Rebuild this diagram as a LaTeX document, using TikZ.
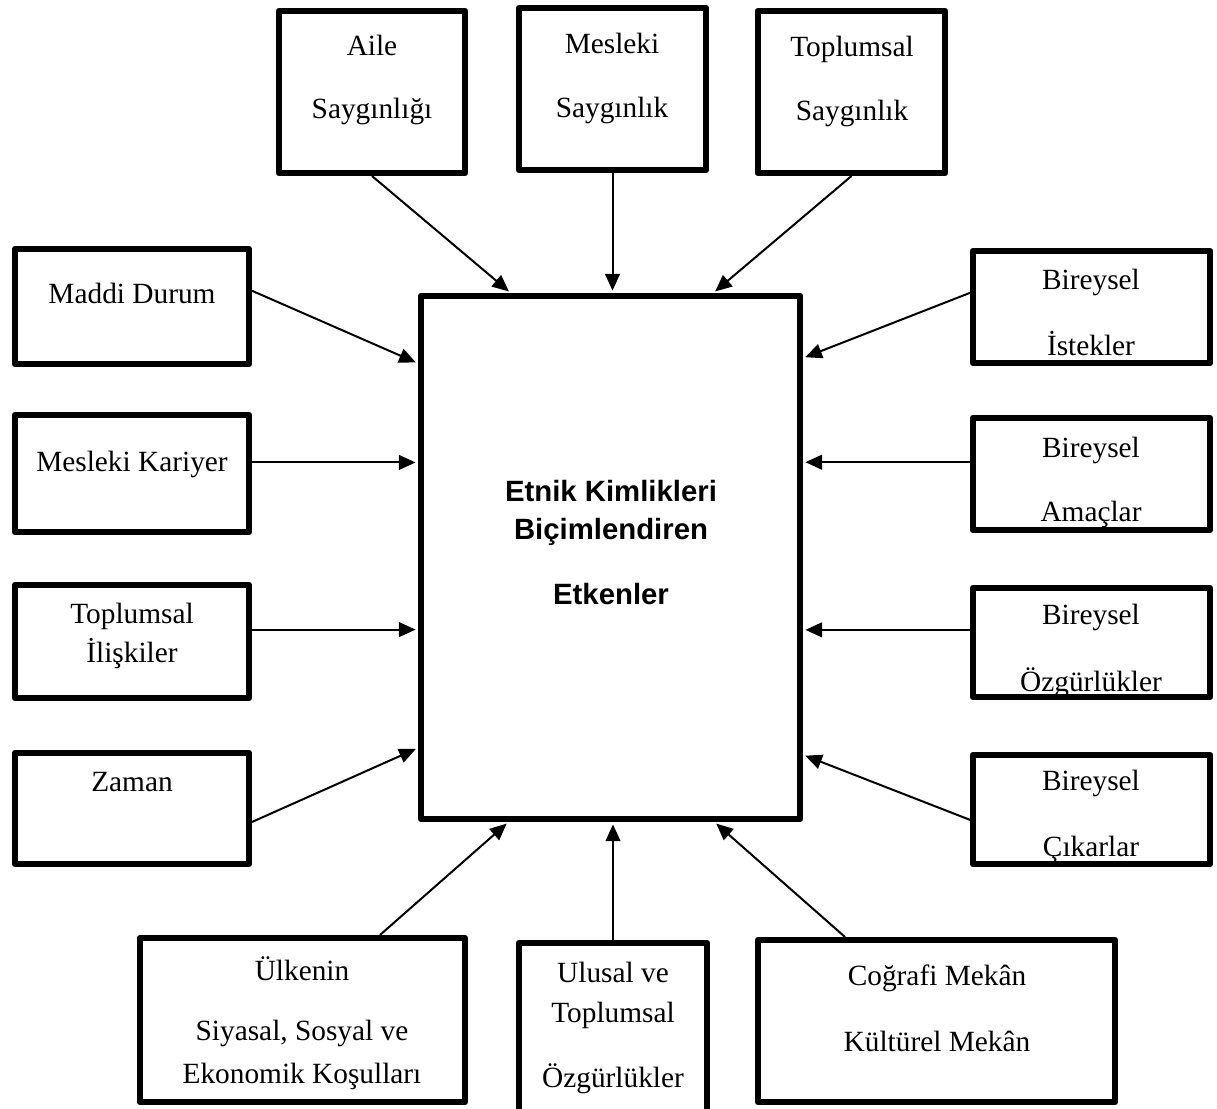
\documentclass[tikz,border=0pt]{standalone}
\usepackage{fontspec}
\setmainfont{Liberation Serif}
\newfontfamily\sansf{Liberation Sans}
\usetikzlibrary{arrows.meta,calc}
\newcommand\bx[5]{\node[box, minimum width={(#4-#2-5.6)*0.75pt}, minimum height={(#5-#3-5.6)*0.75pt}] (#1) at ({(#2+#4)/2},{(#3+#5)/2}) {};}
\begin{document}
\begin{tikzpicture}[x=0.75pt,y=-0.75pt,
  box/.style={draw, line width=4.2pt, rectangle, inner sep=0pt, line join=round},
  lbl/.style={anchor=base, inner sep=0pt, font=\fontsize{22}{26}\selectfont},
  ctr/.style={anchor=base, inner sep=0pt, font=\sansf\bfseries\fontsize{22}{26}\selectfont},
  arr/.style={line width=1.5pt, -{Triangle[length=12.5pt,width=11pt]}, shorten >=1.8pt}]
\useasboundingbox (0,0) rectangle (1217,1108);
% texts
\node[lbl] (t01) at (372,55) {Aile};
\node[lbl] (t02) at (372,118) {Saygınlığı};
\node[lbl] (t03) at (612,53) {Mesleki};
\node[lbl] (t04) at (612,117) {Saygınlık};
\node[lbl] (t05) at (852,56) {Toplumsal};
\node[lbl] (t06) at (852,120) {Saygınlık};
\node[lbl] (t07) at (132,303) {Maddi Durum};
\node[lbl] (t08) at (132,471) {Mesleki Kariyer};
\node[lbl] (t09) at (132,623) {Toplumsal};
\node[lbl] (t10) at (132,662) {İlişkiler};
\node[lbl] (t11) at (132,791) {Zaman};
\node[lbl] (t12) at (1091,289) {Bireysel};
\node[lbl] (t13) at (1091,355) {İstekler};
\node[lbl] (t14) at (1091,457) {Bireysel};
\node[lbl] (t15) at (1091,521) {Amaçlar};
\node[lbl] (t16) at (1091,624) {Bireysel};
\node[lbl] (t17) at (1091,691) {Özgürlükler};
\node[lbl] (t18) at (1091,790) {Bireysel};
\node[lbl] (t19) at (1091,856) {Çıkarlar};
\node[lbl] (t20) at (302,980) {Ülkenin};
\node[lbl] (t21) at (302,1040) {Siyasal, Sosyal ve};
\node[lbl] (t22) at (302,1083) {Ekonomik Koşulları};
\node[lbl] (t23) at (613,982) {Ulusal ve};
\node[lbl] (t24) at (613,1022) {Toplumsal};
\node[lbl] (t25) at (613,1087) {Özgürlükler};
\node[lbl] (t26) at (937,985) {Coğrafi Mekân};
\node[lbl] (t27) at (937,1051) {Kültürel Mekân};
\node[ctr] (t28) at (611,501) {Etnik Kimlikleri};
\node[ctr] (t29) at (611,539) {Biçimlendiren};
\node[ctr] (t30) at (611,604) {Etkenler};
% boxes
\bx{aile}{276}{8}{468}{176}
\bx{mes}{516}{5}{709}{173}
\bx{top}{755}{8}{948}{176}
\bx{maddi}{12}{246}{252}{367}
\bx{kar}{12}{412}{252}{535}
\bx{ili}{12}{582}{252}{701}
\bx{zam}{12}{750}{252}{867}
\bx{ist}{970}{248}{1213}{366}
\bx{amac}{970}{415}{1213}{533}
\bx{ozg}{970}{585}{1213}{700}
\bx{cik}{970}{752}{1213}{867}
\bx{c}{418}{293}{803}{822}
\bx{ulk}{137}{935}{468}{1105}
\bx{ulus}{516}{940}{710}{1120}
\bx{cog}{755}{937}{1118}{1105}
% connectors
\draw[arr] (aile.south) -- ($(c.north west)!0.241!(c.north east)$);
\draw[arr] (mes.south) -- (mes.south |- c.north);
\draw[arr] (top.south) -- ($(c.north west)!0.767!(c.north east)$);
\draw[arr] ($(maddi.north east)!0.37!(maddi.south east)$) -- ($(c.north west)!0.133!(c.south west)$);
\coordinate (k1) at ($(kar.north east)!0.41!(kar.south east)$);
\draw[arr] (k1) -- (k1 -| c.west);
\coordinate (k2) at ($(ili.north east)!0.40!(ili.south east)$);
\draw[arr] (k2) -- (k2 -| c.west);
\draw[arr] ($(zam.north east)!0.615!(zam.south east)$) -- ($(c.north west)!0.86!(c.south west)$);
\draw[arr] ($(ist.north west)!0.38!(ist.south west)$) -- ($(c.north east)!0.123!(c.south east)$);
\coordinate (k3) at ($(amac.north west)!0.40!(amac.south west)$);
\draw[arr] (k3) -- (k3 -| c.east);
\coordinate (k4) at ($(ozg.north west)!0.39!(ozg.south west)$);
\draw[arr] (k4) -- (k4 -| c.east);
\draw[arr] ($(cik.north west)!0.59!(cik.south west)$) -- ($(c.north east)!0.873!(c.south east)$);
\draw[arr] ($(ulk.north west)!0.734!(ulk.north east)$) -- ($(c.south west)!0.235!(c.south east)$);
\draw[arr] (ulus.north) -- (ulus.north |- c.south);
\draw[arr] ($(cog.north west)!0.248!(cog.north east)$) -- ($(c.south west)!0.77!(c.south east)$);
\end{tikzpicture}
\end{document}
